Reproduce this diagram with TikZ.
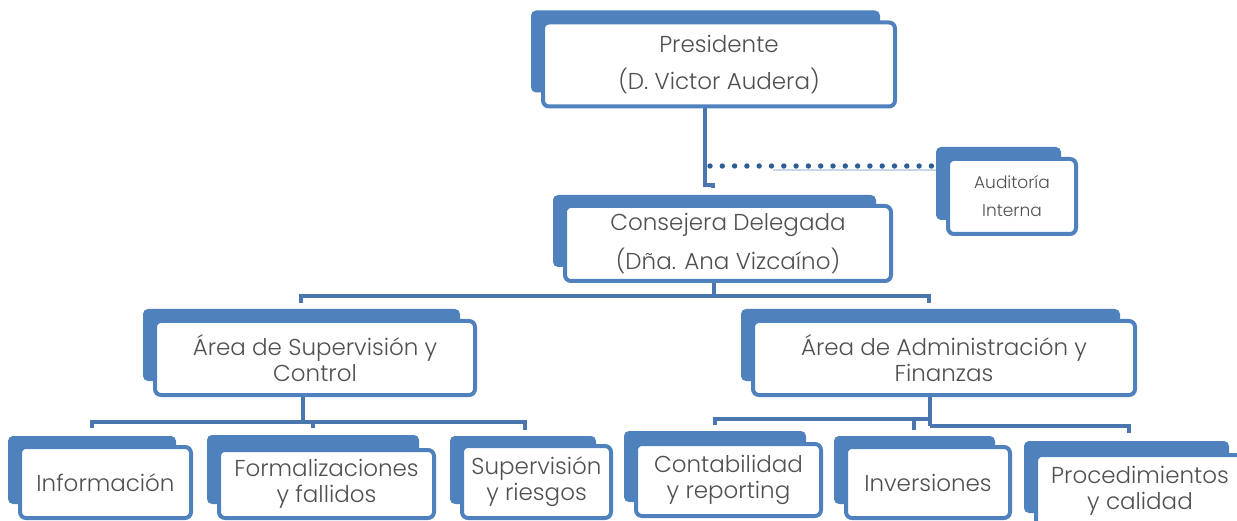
\documentclass[tikz,border=0pt]{standalone}
\usepackage{fontspec}
\setmainfont{Poppins Light}
\usetikzlibrary{calc,backgrounds}
\definecolor{tabblue}{HTML}{4F81BD}
\definecolor{linkblue}{HTML}{4A76B0}
\definecolor{dotblue}{HTML}{2E5C94}
\definecolor{faintblue}{HTML}{C9D7EA}
\definecolor{txtgray}{HTML}{505050}
\begin{document}
\begin{tikzpicture}[x=1pt,y=-1pt,
  box/.style={draw=tabblue, line width=4pt, fill=white, rounded corners=6pt,
    inner sep=0pt, text=txtgray, align=center,
    font=\fontsize{23}{26}\selectfont},
  conn/.style={draw=linkblue, line width=4pt},
  dotline/.style={draw=dotblue, line width=5.4pt, line cap=round, dash pattern=on 0pt off 12.3pt},
  tabfill/.style={fill=tabblue, rounded corners=5pt},
]
\useasboundingbox (0,0) rectangle (1237,521);
\clip (0,0) rectangle (1237,521);

% boxes
\node[box, minimum width=352, minimum height=84] (pres) at (719,64.5)
  {Presidente\\[11pt](D. Victor Audera)};
\node[box, minimum width=326, minimum height=75] (cons) at (728,243.5)
  {Consejera Delegada\\[10pt](Dña. Ana Vizcaíno)};
\node[box, minimum width=128, minimum height=75,
  font=\fontsize{17}{28}\selectfont] (aud) at (1012,196.5)
  {Auditoría\\Interna};
\node[box, minimum width=320, minimum height=74] (sup) at (315,358)
  {Área de Supervisión y\\Control};
\node[box, minimum width=382, minimum height=74] (adm) at (944,358)
  {Área de Administración y\\Finanzas};
\node[box, minimum width=171, minimum height=71] (inf) at (105.5,482.5)
  {Información};
\node[box, minimum width=215, minimum height=68] (for) at (326.5,484)
  {Formalizaciones\\y fallidos};
\node[box, minimum width=149, minimum height=72] (sr) at (536.5,482)
  {Supervisión\\y riesgos};
\node[box, minimum width=185, minimum height=72] (con) at (728.5,480)
  {Contabilidad\\y reporting};
\node[box, minimum width=164, minimum height=71] (inv) at (928,482.5)
  {Inversiones};
\node[box, minimum width=208, minimum height=72] (proc) at (1140,491)
  {Procedimientos\\y calidad};

\coordinate (dotstart) at (710,166);
\coordinate (faintstart) at (773,170);
\coordinate (barA) at (714,296);
\coordinate (barB) at (303,422);
\coordinate (barC) at (930,426);
\coordinate (barD) at (930,419);

\begin{scope}[on background layer]
  % connectors
  \draw[conn] ($(pres.south)+(-14,0)$) -- ++(0,77) -- ++(8,0) -- ($(cons.north)+(-15,-16)$);
  \draw[faintblue, line width=1.5pt] (faintstart) -- (aud.west |- faintstart);
  \draw[dotline] (dotstart) -- (aud.west |- dotstart);
  \draw[conn] ($(cons.south)+(-14,0)$) -- (barA);
  \draw[conn] ($(sup.north)+(-14,-16)$) |- (barA) -| ($(adm.north)+(-15,-16)$);
  \draw[conn] ($(sup.south)+(-12,0)$) -- (barB);
  \draw[conn] ($(inf.north)+(-13.5,-17)$) |- (barB) -| ($(sr.north)+(-11.5,-14)$);
  \draw[conn] ($(for.north)+(-13.5,-20)$) |- (barB);
  \draw[conn] ($(adm.south)+(-14,0)$) -- (barC);
  \draw[conn] ($(con.north)+(-13.5,-17)$) |- (barD);
  \draw[conn] ($(inv.north)+(-14,-15)$) |- (barD);
  \draw[conn] (barC) -| ($(proc.north)+(-11,-20)$);
  % tabs behind the boxes
  \foreach \n/\t in {pres/8, cons/7, aud/8, sup/8, adm/8, inf/7, for/11, sr/6, con/9, inv/7, proc/10}{
    \fill[tabfill] ($(\n.north west)+(-10,-\t-2)$) rectangle ($(\n.south east)+(-17,-16)$);
  }
\end{scope}
\end{tikzpicture}
\end{document}
